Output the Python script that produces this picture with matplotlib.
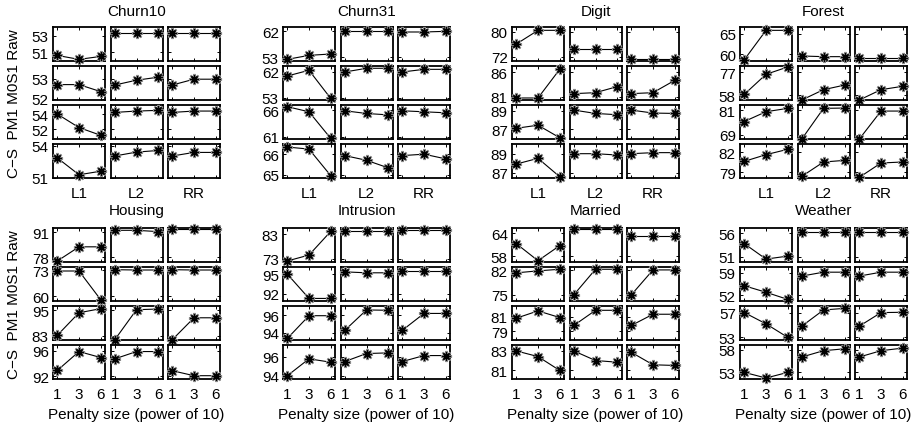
import matplotlib
matplotlib.use("Agg")
import matplotlib.pyplot as plt

plt.rcParams['font.family'] = ['Liberation Sans', 'DejaVu Sans']
plt.rcParams['font.size'] = 11

datasets = ["Churn10", "Churn31", "Digit", "Forest",
            "Housing", "Intrusion", "Married", "Weather"]
methods = ["Raw", "M0S1", "PM1", "C\u2212S"]
penalties = ["L1", "L2", "RR"]
penalty_sizes = ["1", "3", "6"]

# values[row(method)][col(penalty)][penalty size]
churn10 = [
    [[50.6, 50.12, 50.48], [53.4, 53.4, 53.4], [53.32, 53.32, 53.32]],
    [[52.7, 52.7, 52.35], [52.68, 52.92, 53.07], [52.68, 52.97, 52.97]],
    [[54.0, 52.22, 51.2], [54.22, 54.4, 54.49], [54.22, 54.4, 54.4]],
    [[52.86, 51.3, 51.63], [53.04, 53.4, 53.55], [53.04, 53.37, 53.37]],
]
churn10_ylim = [(49.92, 54.08), (51.93, 53.63), (50.71, 55.2), (51.05, 54.15)]
churn10_yticks = [(51, 53), (52, 53), (52, 54), (51, 54)]

churn31 = [
    [[52.18, 53.58, 54.05], [62.23, 62.23, 62.23], [61.77, 61.77, 62.0]],
    [[60.6, 62.6, 52.76], [62.0, 63.3, 63.3], [62.0, 62.93, 62.93]],
    [[66.64, 65.68, 60.68], [65.87, 65.36, 65.1], [65.87, 65.68, 65.49]],
    [[66.35, 66.25, 64.95], [65.93, 65.7, 65.33], [65.93, 66.0, 65.77]],
]
churn31_ylim = [(51.6, 63.52), (52.18, 64.1), (60.55, 66.96), (64.83, 66.5)]
churn31_yticks = [(53, 62), (53, 62), (61, 66), (65, 66)]

digit = [
    [[76.1, 80.54, 80.54], [74.38, 74.38, 74.38], [71.13, 71.13, 71.13]],
    [[80.73, 80.73, 86.54], [81.61, 81.81, 83.03], [81.61, 81.81, 84.3]],
    [[87.11, 87.44, 86.09], [89.07, 88.71, 88.57], [89.07, 88.75, 88.71]],
    [[87.94, 88.54, 86.61], [89.03, 89.03, 88.89], [89.03, 89.14, 89.14]],
]
digit_ylim = [(70.6, 81.62), (80.32, 87.22), (85.95, 89.62), (86.47, 90.05)]
digit_yticks = [(72, 80), (81, 86), (87, 89), (87, 89)]

forest = [
    [[58.71, 65.8, 65.8], [59.6, 59.44, 59.44], [59.11, 59.11, 59.11]],
    [[58.55, 75.08, 81.13], [53.87, 62.4, 66.3], [53.87, 62.4, 65.2]],
    [[75.48, 80.19, 81.81], [67.05, 81.81, 81.97], [67.05, 80.51, 80.51]],
    [[80.65, 81.65, 82.45], [78.4, 80.55, 80.8], [78.25, 80.4, 80.55]],
]
forest_ylim = [(58.39, 66.61), (53.87, 81.96), (67.05, 83.43), (78.15, 83.25)]
forest_yticks = [(60, 65), (58, 77), (69, 81), (79, 82)]

housing = [
    [[75.92, 83.37, 83.37], [92.04, 92.04, 91.35], [92.9, 92.9, 92.9]],
    [[72.67, 72.67, 58.33], [73.33, 73.17, 73.17], [73.33, 73.17, 73.17]],
    [[83.16, 93.88, 95.8], [81.08, 95.32, 95.64], [81.08, 91.48, 91.48]],
    [[92.93, 95.9, 94.96], [94.75, 95.9, 95.9], [92.88, 92.1, 92.1]],
]
housing_ylim = [(75.4, 93.25), (57.67, 74.67), (80.92, 97.08), (91.58, 96.93)]
housing_yticks = [(78, 91), (60, 73), (83, 95), (92, 96)]

intrusion = [
    [[72.0, 74.43, 84.14], [84.43, 84.43, 84.43], [84.71, 84.71, 84.71]],
    [[95.0, 91.31, 91.31], [95.34, 95.2, 95.2], [95.49, 95.49, 95.49]],
    [[93.33, 95.93, 95.93], [94.26, 96.59, 96.55], [94.26, 96.19, 96.19]],
    [[94.0, 95.76, 95.41], [95.48, 96.31, 96.38], [95.48, 96.1, 96.1]],
]
intrusion_ylim = [(71.57, 85.57), (90.92, 96.08), (93.15, 97.04), (93.66, 97.2)]
intrusion_yticks = [(73, 83), (92, 95), (94, 96), (94, 96)]

married = [
    [[61.26, 56.8, 60.74], [65.03, 65.03, 65.03], [63.31, 63.31, 63.31]],
    [[81.25, 81.81, 82.28], [74.91, 82.28, 82.28], [74.91, 82.09, 82.09]],
    [[80.78, 81.76, 80.87], [79.8, 81.84, 81.84], [79.8, 81.31, 81.31]],
    [[82.97, 82.4, 81.0], [82.97, 82.0, 81.83], [82.83, 81.57, 81.5]],
]
married_ylim = [(56.46, 65.37), (73.13, 82.93), (77.84, 82.42), (80.13, 83.57)]
married_yticks = [(58, 64), (75, 82), (79, 81), (81, 83)]

weather = [
    [[53.78, 50.51, 51.14], [56.35, 56.35, 56.35], [56.35, 56.35, 56.35]],
    [[55.0, 53.0, 50.8], [58.0, 59.2, 59.2], [58.0, 59.2, 59.2]],
    [[57.0, 55.16, 52.95], [54.78, 57.43, 57.7], [54.78, 57.0, 57.05]],
    [[53.0, 51.75, 53.0], [56.43, 57.83, 58.27], [56.43, 57.83, 58.41]],
]
weather_ylim = [(49.89, 57.11), (50.3, 60.8), (52.51, 58.08), (51.53, 59.1)]
weather_yticks = [(51, 56), (52, 59), (53, 57), (53, 58)]

all_values = [churn10, churn31, digit, forest, housing, intrusion, married, weather]
all_ylims = [churn10_ylim, churn31_ylim, digit_ylim, forest_ylim,
             housing_ylim, intrusion_ylim, married_ylim, weather_ylim]
all_yticks = [churn10_yticks, churn31_yticks, digit_yticks, forest_yticks,
              housing_yticks, intrusion_yticks, married_yticks, weather_yticks]

W, H = 922, 427
fig = plt.figure(figsize=(W / 100, H / 100), dpi=100)

panel_left = [53, 283, 512, 740]
col_off = [0, 57.5, 115]
ax_w = 52
ax_h = 34
row_tops = [[28, 67, 106, 145], [229, 268, 307, 346]]
panel_w = col_off[-1] + ax_w

x_pos = list(range(1, len(penalty_sizes) + 1))

for d, name in enumerate(datasets):
    half = d // 4
    p = d % 4
    left = panel_left[p]
    for r in range(len(methods)):
        top = row_tops[half][r]
        for c in range(len(penalties)):
            ax = fig.add_axes([(left + col_off[c]) / W, 1 - (top + ax_h) / H,
                               ax_w / W, ax_h / H])
            ax.plot(x_pos, all_values[d][r][c], color='black', lw=0.8,
                    zorder=3, clip_on=False)
            ax.plot(x_pos, all_values[d][r][c], ls='none', marker=(8, 2, 0),
                    ms=8, mew=1.6, mec='#8a8a8a', clip_on=False, zorder=4)
            ax.plot(x_pos, all_values[d][r][c], ls='none', marker=(8, 2, 0),
                    ms=6, mew=0.9, mec='black', clip_on=False, zorder=5)
            ax.set_xlim(0.8, 3.2)
            ax.set_ylim(*all_ylims[d][r])
            ax.set_xticks(x_pos)
            ax.set_yticks(all_yticks[d][r])
            ax.tick_params(direction='in', length=2.5, width=0.7,
                           top=True, right=True, pad=3, labelsize=11)
            for s in ax.spines.values():
                s.set_linewidth(1.3)
            if c == 0:
                ax.set_yticklabels([str(v) for v in all_yticks[d][r]])
            else:
                ax.set_yticklabels([])
            if half == 1 and r == len(methods) - 1:
                ax.set_xticklabels(penalty_sizes)
                ax.tick_params(axis='x', pad=6)
            else:
                ax.set_xticklabels([])
            if half == 0 and r == len(methods) - 1:
                fig.text((left + col_off[c] + ax_w / 2) / W, 1 - 194 / H,
                         penalties[c], ha='center', va='center', fontsize=11)
    cx = (left + panel_w / 2) / W
    title_y = 12 if half == 0 else 211
    fig.text(cx, 1 - title_y / H, name, ha='center', va='center', fontsize=11)
    if half == 1:
        fig.text(cx, 1 - 415 / H, "Penalty size (power of 10)",
                 ha='center', va='center', fontsize=11)
    if p == 0:
        mid = row_tops[half][0] + (row_tops[half][-1] + ax_h - row_tops[half][0]) / 2
        fig.text(14 / W, 1 - mid / H, "  ".join(methods[::-1][:2]) + " " + " ".join(methods[::-1][2:]),
                 rotation=90, ha='center', va='center', fontsize=11)

fig.savefig("out.png", dpi=100)
